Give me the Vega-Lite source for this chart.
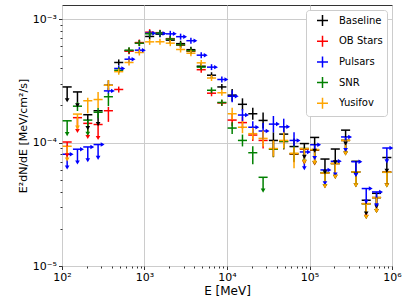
{
"$schema": "https://vega.github.io/schema/vega-lite/v6.json",
"width": 330, "height": 261,
"autosize": "none",
"padding": {"left": 62, "top": 5, "right": 15, "bottom": 39},
"datasets": {
"bins": [
{"b":0,"e":115.48,"elo":101.74,"ehi":131.07},{"b":1,"e":153.99,"elo":135.66,"ehi":174.79},{"b":2,"e":205.35,"elo":180.93,"ehi":233.08},{"b":3,"e":273.84,"elo":241.27,"ehi":310.82},
{"b":4,"e":365.17,"elo":321.74,"ehi":414.49},{"b":5,"e":486.97,"elo":429.05,"ehi":552.74},{"b":6,"e":649.38,"elo":572.16,"ehi":737.11},{"b":7,"e":865.96,"elo":763.01,"ehi":982.96},
{"b":8,"e":1154.8,"elo":1017.4,"ehi":1310.7},{"b":9,"e":1539.9,"elo":1356.6,"ehi":1747.9},{"b":10,"e":2053.5,"elo":1809.3,"ehi":2330.8},{"b":11,"e":2738.4,"elo":2412.7,"ehi":3108.2},
{"b":12,"e":3651.7,"elo":3217.4,"ehi":4144.9},{"b":13,"e":4869.7,"elo":4290.5,"ehi":5527.4},{"b":14,"e":6493.8,"elo":5721.6,"ehi":7371.1},{"b":15,"e":8659.6,"elo":7630.1,"ehi":9829.6},
{"b":16,"e":11548,"elo":10174,"ehi":13107},{"b":17,"e":15399,"elo":13566,"ehi":17479},{"b":18,"e":20535,"elo":18093,"ehi":23308},{"b":19,"e":27384,"elo":24127,"ehi":31082},
{"b":20,"e":36517,"elo":32174,"ehi":41449},{"b":21,"e":48697,"elo":42905,"ehi":55274},{"b":22,"e":64938,"elo":57216,"ehi":73711},{"b":23,"e":86596,"elo":76301,"ehi":98296},
{"b":24,"e":115480,"elo":101740,"ehi":131070},{"b":25,"e":153990,"elo":135660,"ehi":174790},{"b":26,"e":205350,"elo":180930,"ehi":233080},{"b":27,"e":273840,"elo":241270,"ehi":310820},
{"b":28,"e":365170,"elo":321740,"ehi":414490},{"b":29,"e":486970,"elo":429050,"ehi":552740},{"b":30,"e":649380,"elo":572160,"ehi":737110},{"b":31,"e":865960,"elo":763010,"ehi":982960}
],
"pts": [
{"s":"Baseline","b":0,"y":2.82e-4,"lo":2.20e-4,"hi":2.82e-4,"u":1},
{"s":"Baseline","b":1,"y":2.57e-4,"lo":2.00e-4,"hi":2.57e-4,"u":1},
{"s":"Baseline","b":2,"y":1.68e-4,"lo":1.31e-4,"hi":1.68e-4,"u":1},
{"s":"Baseline","b":3,"y":1.81e-4,"lo":1.41e-4,"hi":1.81e-4,"u":1},
{"s":"Baseline","b":4,"y":2.91e-4,"lo":2.65e-4,"hi":3.19e-4,"u":0},
{"s":"Baseline","b":5,"y":4.45e-4,"lo":4.21e-4,"hi":4.71e-4,"u":0},
{"s":"Baseline","b":6,"y":5.53e-4,"lo":5.23e-4,"hi":5.85e-4,"u":0},
{"s":"Baseline","b":7,"y":6.41e-4,"lo":6.06e-4,"hi":6.78e-4,"u":0},
{"s":"Baseline","b":8,"y":7.23e-4,"lo":6.84e-4,"hi":7.65e-4,"u":0},
{"s":"Baseline","b":9,"y":7.55e-4,"lo":7.14e-4,"hi":7.98e-4,"u":0},
{"s":"Baseline","b":10,"y":6.75e-4,"lo":6.38e-4,"hi":7.14e-4,"u":0},
{"s":"Baseline","b":11,"y":6.32e-4,"lo":5.98e-4,"hi":6.68e-4,"u":0},
{"s":"Baseline","b":12,"y":5.65e-4,"lo":5.34e-4,"hi":5.98e-4,"u":0},
{"s":"Baseline","b":13,"y":4.15e-4,"lo":3.92e-4,"hi":4.39e-4,"u":0},
{"s":"Baseline","b":14,"y":3.51e-4,"lo":3.32e-4,"hi":3.71e-4,"u":0},
{"s":"Baseline","b":15,"y":2.82e-4,"lo":2.67e-4,"hi":2.98e-4,"u":0},
{"s":"Baseline","b":16,"y":2.42e-4,"lo":2.16e-4,"hi":2.71e-4,"u":0},
{"s":"Baseline","b":17,"y":2.04e-4,"lo":1.82e-4,"hi":2.28e-4,"u":0},
{"s":"Baseline","b":18,"y":1.71e-4,"lo":1.53e-4,"hi":1.91e-4,"u":0},
{"s":"Baseline","b":19,"y":1.51e-4,"lo":1.30e-4,"hi":1.75e-4,"u":0},
{"s":"Baseline","b":20,"y":1.04e-4,"lo":8.96e-5,"hi":1.21e-4,"u":0},
{"s":"Baseline","b":21,"y":1.17e-4,"lo":1.01e-4,"hi":1.36e-4,"u":0},
{"s":"Baseline","b":22,"y":9.28e-5,"lo":7.99e-5,"hi":1.08e-4,"u":0},
{"s":"Baseline","b":23,"y":9.81e-5,"lo":7.65e-5,"hi":9.81e-5,"u":1},
{"s":"Baseline","b":24,"y":1.10e-4,"lo":8.58e-5,"hi":1.10e-4,"u":1},
{"s":"Baseline","b":25,"y":7.35e-5,"lo":5.73e-5,"hi":7.35e-5,"u":1},
{"s":"Baseline","b":26,"y":8.86e-5,"lo":6.91e-5,"hi":8.86e-5,"u":1},
{"s":"Baseline","b":27,"y":1.26e-4,"lo":9.83e-5,"hi":1.26e-4,"u":1},
{"s":"Baseline","b":28,"y":7.05e-5,"lo":5.50e-5,"hi":7.05e-5,"u":1},
{"s":"Baseline","b":29,"y":3.41e-5,"lo":2.66e-5,"hi":3.41e-5,"u":1},
{"s":"Baseline","b":30,"y":3.88e-5,"lo":3.03e-5,"hi":3.88e-5,"u":1},
{"s":"Baseline","b":31,"y":7.56e-5,"lo":5.90e-5,"hi":7.56e-5,"u":1},
{"s":"OB Stars","b":0,"y":1.01e-4,"lo":7.89e-5,"hi":1.01e-4,"u":1},
{"s":"OB Stars","b":1,"y":1.59e-4,"lo":1.24e-4,"hi":1.59e-4,"u":1},
{"s":"OB Stars","b":2,"y":1.43e-4,"lo":1.11e-4,"hi":1.43e-4,"u":1},
{"s":"OB Stars","b":3,"y":1.40e-4,"lo":1.09e-4,"hi":1.40e-4,"u":1},
{"s":"OB Stars","b":4,"y":1.81e-4,"lo":1.47e-4,"hi":1.94e-4,"u":0},
{"s":"OB Stars","b":5,"y":2.69e-4,"lo":2.54e-4,"hi":2.84e-4,"u":0},
{"s":"OB Stars","b":6,"y":5.50e-4,"lo":5.20e-4,"hi":5.82e-4,"u":0},
{"s":"OB Stars","b":7,"y":6.45e-4,"lo":6.10e-4,"hi":6.82e-4,"u":0},
{"s":"OB Stars","b":8,"y":7.83e-4,"lo":7.41e-4,"hi":8.28e-4,"u":0},
{"s":"OB Stars","b":9,"y":7.76e-4,"lo":7.34e-4,"hi":8.21e-4,"u":0},
{"s":"OB Stars","b":10,"y":6.94e-4,"lo":6.56e-4,"hi":7.34e-4,"u":0},
{"s":"OB Stars","b":11,"y":6.14e-4,"lo":5.81e-4,"hi":6.50e-4,"u":0},
{"s":"OB Stars","b":12,"y":5.49e-4,"lo":5.19e-4,"hi":5.81e-4,"u":0},
{"s":"OB Stars","b":13,"y":3.89e-4,"lo":3.68e-4,"hi":4.11e-4,"u":0},
{"s":"OB Stars","b":14,"y":2.51e-4,"lo":2.37e-4,"hi":2.65e-4,"u":0},
{"s":"OB Stars","b":15,"y":2.09e-4,"lo":1.98e-4,"hi":2.21e-4,"u":0},
{"s":"OB Stars","b":16,"y":1.52e-4,"lo":1.36e-4,"hi":1.70e-4,"u":0},
{"s":"OB Stars","b":17,"y":1.45e-4,"lo":1.30e-4,"hi":1.62e-4,"u":0},
{"s":"OB Stars","b":18,"y":1.15e-4,"lo":1.03e-4,"hi":1.29e-4,"u":0},
{"s":"OB Stars","b":19,"y":1.04e-4,"lo":8.96e-5,"hi":1.21e-4,"u":0},
{"s":"OB Stars","b":20,"y":8.83e-5,"lo":7.61e-5,"hi":1.03e-4,"u":0},
{"s":"OB Stars","b":21,"y":1.02e-4,"lo":8.79e-5,"hi":1.18e-4,"u":0},
{"s":"OB Stars","b":22,"y":8.04e-5,"lo":6.93e-5,"hi":9.33e-5,"u":0},
{"s":"OB Stars","b":23,"y":8.83e-5,"lo":6.89e-5,"hi":8.83e-5,"u":1},
{"s":"OB Stars","b":24,"y":8.66e-5,"lo":6.76e-5,"hi":8.66e-5,"u":1},
{"s":"OB Stars","b":25,"y":5.67e-5,"lo":4.42e-5,"hi":5.67e-5,"u":1},
{"s":"OB Stars","b":26,"y":6.76e-5,"lo":5.27e-5,"hi":6.76e-5,"u":1},
{"s":"OB Stars","b":27,"y":1.04e-4,"lo":8.14e-5,"hi":1.04e-4,"u":1},
{"s":"OB Stars","b":28,"y":5.78e-5,"lo":4.51e-5,"hi":5.78e-5,"u":1},
{"s":"OB Stars","b":29,"y":3.20e-5,"lo":2.50e-5,"hi":3.20e-5,"u":1},
{"s":"OB Stars","b":30,"y":3.58e-5,"lo":2.79e-5,"hi":3.58e-5,"u":1},
{"s":"OB Stars","b":31,"y":5.78e-5,"lo":4.51e-5,"hi":5.78e-5,"u":1},
{"s":"Pulsars","b":0,"y":8.04e-5,"lo":6.27e-5,"hi":8.04e-5,"u":1},
{"s":"Pulsars","b":1,"y":8.83e-5,"lo":6.89e-5,"hi":8.83e-5,"u":1},
{"s":"Pulsars","b":2,"y":9.21e-5,"lo":7.19e-5,"hi":9.21e-5,"u":1},
{"s":"Pulsars","b":3,"y":9.63e-5,"lo":7.51e-5,"hi":9.63e-5,"u":1},
{"s":"Pulsars","b":4,"y":2.62e-4,"lo":2.48e-4,"hi":2.77e-4,"u":0},
{"s":"Pulsars","b":5,"y":3.98e-4,"lo":3.76e-4,"hi":4.21e-4,"u":0},
{"s":"Pulsars","b":6,"y":4.73e-4,"lo":4.47e-4,"hi":5.00e-4,"u":0},
{"s":"Pulsars","b":7,"y":5.60e-4,"lo":5.29e-4,"hi":5.92e-4,"u":0},
{"s":"Pulsars","b":8,"y":7.69e-4,"lo":7.27e-4,"hi":8.13e-4,"u":0},
{"s":"Pulsars","b":9,"y":7.64e-4,"lo":7.23e-4,"hi":8.08e-4,"u":0},
{"s":"Pulsars","b":10,"y":7.59e-4,"lo":7.18e-4,"hi":8.03e-4,"u":0},
{"s":"Pulsars","b":11,"y":7.20e-4,"lo":6.81e-4,"hi":7.62e-4,"u":0},
{"s":"Pulsars","b":12,"y":6.68e-4,"lo":6.32e-4,"hi":7.07e-4,"u":0},
{"s":"Pulsars","b":13,"y":5.10e-4,"lo":4.82e-4,"hi":5.39e-4,"u":0},
{"s":"Pulsars","b":14,"y":4.08e-4,"lo":3.86e-4,"hi":4.31e-4,"u":0},
{"s":"Pulsars","b":15,"y":3.24e-4,"lo":3.06e-4,"hi":3.43e-4,"u":0},
{"s":"Pulsars","b":16,"y":2.37e-4,"lo":2.12e-4,"hi":2.65e-4,"u":0},
{"s":"Pulsars","b":17,"y":1.67e-4,"lo":1.49e-4,"hi":1.87e-4,"u":0},
{"s":"Pulsars","b":18,"y":1.33e-4,"lo":1.19e-4,"hi":1.49e-4,"u":0},
{"s":"Pulsars","b":19,"y":1.24e-4,"lo":1.07e-4,"hi":1.44e-4,"u":0},
{"s":"Pulsars","b":20,"y":1.41e-4,"lo":1.21e-4,"hi":1.64e-4,"u":0},
{"s":"Pulsars","b":21,"y":1.34e-4,"lo":1.15e-4,"hi":1.56e-4,"u":0},
{"s":"Pulsars","b":22,"y":1.04e-4,"lo":8.96e-5,"hi":1.21e-4,"u":0},
{"s":"Pulsars","b":23,"y":8.39e-5,"lo":6.20e-5,"hi":8.39e-5,"u":1},
{"s":"Pulsars","b":24,"y":9.60e-5,"lo":7.49e-5,"hi":9.60e-5,"u":1},
{"s":"Pulsars","b":25,"y":6.00e-5,"lo":4.68e-5,"hi":6.00e-5,"u":1},
{"s":"Pulsars","b":26,"y":7.05e-5,"lo":5.50e-5,"hi":7.05e-5,"u":1},
{"s":"Pulsars","b":27,"y":1.11e-4,"lo":8.69e-5,"hi":1.11e-4,"u":1},
{"s":"Pulsars","b":28,"y":6.99e-5,"lo":5.45e-5,"hi":6.99e-5,"u":1},
{"s":"Pulsars","b":29,"y":4.24e-5,"lo":3.31e-5,"hi":4.24e-5,"u":1},
{"s":"Pulsars","b":30,"y":3.98e-5,"lo":3.10e-5,"hi":3.98e-5,"u":1},
{"s":"Pulsars","b":31,"y":9.03e-5,"lo":7.04e-5,"hi":9.03e-5,"u":1},
{"s":"SNR","b":0,"y":1.50e-4,"lo":1.17e-4,"hi":1.50e-4,"u":1},
{"s":"SNR","b":1,"y":1.97e-4,"lo":1.80e-4,"hi":2.13e-4,"u":0},
{"s":"SNR","b":2,"y":1.52e-4,"lo":1.18e-4,"hi":1.52e-4,"u":1},
{"s":"SNR","b":3,"y":1.76e-4,"lo":1.57e-4,"hi":1.90e-4,"u":0},
{"s":"SNR","b":4,"y":2.35e-4,"lo":1.97e-4,"hi":2.51e-4,"u":0},
{"s":"SNR","b":5,"y":3.85e-4,"lo":3.64e-4,"hi":4.08e-4,"u":0},
{"s":"SNR","b":6,"y":5.60e-4,"lo":5.29e-4,"hi":5.92e-4,"u":0},
{"s":"SNR","b":7,"y":6.38e-4,"lo":6.03e-4,"hi":6.75e-4,"u":0},
{"s":"SNR","b":8,"y":7.60e-4,"lo":7.19e-4,"hi":8.04e-4,"u":0},
{"s":"SNR","b":9,"y":7.70e-4,"lo":7.28e-4,"hi":8.14e-4,"u":0},
{"s":"SNR","b":10,"y":6.90e-4,"lo":6.52e-4,"hi":7.30e-4,"u":0},
{"s":"SNR","b":11,"y":6.18e-4,"lo":5.84e-4,"hi":6.54e-4,"u":0},
{"s":"SNR","b":12,"y":5.53e-4,"lo":5.23e-4,"hi":5.85e-4,"u":0},
{"s":"SNR","b":13,"y":4.08e-4,"lo":3.86e-4,"hi":4.31e-4,"u":0},
{"s":"SNR","b":14,"y":2.65e-4,"lo":2.51e-4,"hi":2.80e-4,"u":0},
{"s":"SNR","b":15,"y":2.11e-4,"lo":1.99e-4,"hi":2.23e-4,"u":0},
{"s":"SNR","b":16,"y":1.31e-4,"lo":1.17e-4,"hi":1.46e-4,"u":0},
{"s":"SNR","b":17,"y":1.04e-4,"lo":9.30e-5,"hi":1.16e-4,"u":0},
{"s":"SNR","b":18,"y":8.27e-5,"lo":6.67e-5,"hi":9.33e-5,"u":0},
{"s":"SNR","b":19,"y":5.23e-5,"lo":4.08e-5,"hi":5.23e-5,"u":1},
{"s":"SNR","b":20,"y":8.83e-5,"lo":7.61e-5,"hi":1.03e-4,"u":0},
{"s":"SNR","b":21,"y":1.02e-4,"lo":8.82e-5,"hi":1.19e-4,"u":0},
{"s":"SNR","b":22,"y":8.11e-5,"lo":6.99e-5,"hi":9.42e-5,"u":0},
{"s":"SNR","b":23,"y":8.94e-5,"lo":6.97e-5,"hi":8.94e-5,"u":1},
{"s":"SNR","b":24,"y":8.74e-5,"lo":6.82e-5,"hi":8.74e-5,"u":1},
{"s":"SNR","b":25,"y":5.70e-5,"lo":4.45e-5,"hi":5.70e-5,"u":1},
{"s":"SNR","b":26,"y":6.76e-5,"lo":5.27e-5,"hi":6.76e-5,"u":1},
{"s":"SNR","b":27,"y":1.04e-4,"lo":8.14e-5,"hi":1.04e-4,"u":1},
{"s":"SNR","b":28,"y":5.78e-5,"lo":4.51e-5,"hi":5.78e-5,"u":1},
{"s":"SNR","b":29,"y":3.19e-5,"lo":2.49e-5,"hi":3.19e-5,"u":1},
{"s":"SNR","b":30,"y":3.58e-5,"lo":2.79e-5,"hi":3.58e-5,"u":1},
{"s":"SNR","b":31,"y":5.74e-5,"lo":4.48e-5,"hi":5.74e-5,"u":1},
{"s":"Yusifov","b":0,"y":9.33e-5,"lo":7.28e-5,"hi":9.33e-5,"u":1},
{"s":"Yusifov","b":1,"y":1.70e-4,"lo":1.32e-4,"hi":1.70e-4,"u":1},
{"s":"Yusifov","b":2,"y":2.18e-4,"lo":1.73e-4,"hi":2.31e-4,"u":0},
{"s":"Yusifov","b":3,"y":2.23e-4,"lo":1.90e-4,"hi":2.57e-4,"u":0},
{"s":"Yusifov","b":4,"y":2.91e-4,"lo":2.65e-4,"hi":3.20e-4,"u":0},
{"s":"Yusifov","b":5,"y":3.75e-4,"lo":3.54e-4,"hi":3.96e-4,"u":0},
{"s":"Yusifov","b":6,"y":4.45e-4,"lo":4.21e-4,"hi":4.71e-4,"u":0},
{"s":"Yusifov","b":7,"y":5.36e-4,"lo":5.07e-4,"hi":5.67e-4,"u":0},
{"s":"Yusifov","b":8,"y":6.54e-4,"lo":6.18e-4,"hi":6.91e-4,"u":0},
{"s":"Yusifov","b":9,"y":6.55e-4,"lo":6.19e-4,"hi":6.93e-4,"u":0},
{"s":"Yusifov","b":10,"y":6.38e-4,"lo":6.03e-4,"hi":6.75e-4,"u":0},
{"s":"Yusifov","b":11,"y":5.67e-4,"lo":5.36e-4,"hi":6.00e-4,"u":0},
{"s":"Yusifov","b":12,"y":5.29e-4,"lo":5.00e-4,"hi":5.60e-4,"u":0},
{"s":"Yusifov","b":13,"y":4.42e-4,"lo":4.18e-4,"hi":4.67e-4,"u":0},
{"s":"Yusifov","b":14,"y":3.33e-4,"lo":3.15e-4,"hi":3.52e-4,"u":0},
{"s":"Yusifov","b":15,"y":2.53e-4,"lo":2.39e-4,"hi":2.68e-4,"u":0},
{"s":"Yusifov","b":16,"y":1.71e-4,"lo":1.53e-4,"hi":1.91e-4,"u":0},
{"s":"Yusifov","b":17,"y":1.33e-4,"lo":1.19e-4,"hi":1.49e-4,"u":0},
{"s":"Yusifov","b":18,"y":1.18e-4,"lo":1.06e-4,"hi":1.32e-4,"u":0},
{"s":"Yusifov","b":19,"y":1.08e-4,"lo":9.28e-5,"hi":1.25e-4,"u":0},
{"s":"Yusifov","b":20,"y":8.94e-5,"lo":7.70e-5,"hi":1.04e-4,"u":0},
{"s":"Yusifov","b":21,"y":1.04e-4,"lo":8.96e-5,"hi":1.21e-4,"u":0},
{"s":"Yusifov","b":22,"y":8.19e-5,"lo":6.19e-5,"hi":9.16e-5,"u":0},
{"s":"Yusifov","b":23,"y":8.94e-5,"lo":6.97e-5,"hi":8.94e-5,"u":1},
{"s":"Yusifov","b":24,"y":8.78e-5,"lo":6.85e-5,"hi":8.78e-5,"u":1},
{"s":"Yusifov","b":25,"y":5.67e-5,"lo":4.42e-5,"hi":5.67e-5,"u":1},
{"s":"Yusifov","b":26,"y":6.76e-5,"lo":5.27e-5,"hi":6.76e-5,"u":1},
{"s":"Yusifov","b":27,"y":1.04e-4,"lo":8.14e-5,"hi":1.04e-4,"u":1},
{"s":"Yusifov","b":28,"y":5.78e-5,"lo":4.51e-5,"hi":5.78e-5,"u":1},
{"s":"Yusifov","b":29,"y":3.19e-5,"lo":2.49e-5,"hi":3.19e-5,"u":1},
{"s":"Yusifov","b":30,"y":3.58e-5,"lo":2.79e-5,"hi":3.58e-5,"u":1},
{"s":"Yusifov","b":31,"y":5.75e-5,"lo":4.49e-5,"hi":5.75e-5,"u":1}
]
},
"data": {"name": "pts"},
"transform": [{"lookup": "b", "from": {"data": {"name": "bins"}, "key": "b", "fields": ["e", "elo", "ehi"]}}],
"encoding": {
  "color": {"field": "s", "type": "nominal",
    "scale": {"domain": ["Baseline", "OB Stars", "Pulsars", "SNR", "Yusifov"], "range": ["#000000", "#ff0000", "#0000ff", "#008000", "#ffa500"]},
    "legend": {"title": null, "orient": "top-right", "offset": 5, "padding": 4, "symbolOffset": 6,
      "strokeColor": "#cccccc", "fillColor": "#ffffff", "cornerRadius": 3,
      "symbolType": "M-1,0L1,0M0,-1L0,1", "symbolSize": 121, "symbolStrokeWidth": 1.5,
      "labelFont": "DejaVu Sans", "labelFontSize": 10, "labelColor": "#000000", "labelOffset": 10, "rowPadding": 3.7}}
},
"layer": [
  {"mark": {"type": "rule", "strokeWidth": 1.5},
   "encoding": {
     "x": {"field": "elo", "type": "quantitative",
       "scale": {"type": "log", "domain": [100, 1000000], "nice": false},
       "axis": {"title": "E [MeV]", "grid": true, "titleFontSize": 12,
         "values": [100,200,300,400,500,600,700,800,900,1000,2000,3000,4000,5000,6000,7000,8000,9000,10000,20000,30000,40000,50000,60000,70000,80000,90000,100000,200000,300000,400000,500000,600000,700000,800000,900000,1000000],
         "labelExpr": "datum.value == 100 ? '10²' : datum.value == 1000 ? '10³' : datum.value == 10000 ? '10⁴' : datum.value == 100000 ? '10⁵' : datum.value == 1000000 ? '10⁶' : ''",
         "tickSize": {"condition": {"test": "datum.value == 100 || datum.value == 1000 || datum.value == 10000 || datum.value == 100000 || datum.value == 1000000", "value": 3.5}, "value": 2},
         "gridOpacity": {"condition": {"test": "datum.value == 100 || datum.value == 1000 || datum.value == 10000 || datum.value == 100000 || datum.value == 1000000", "value": 1}, "value": 0},
         "labelPadding": 2, "titlePadding": 3}},
     "x2": {"field": "ehi"},
     "y": {"field": "y", "type": "quantitative",
       "scale": {"type": "log", "domain": [0.00001, 0.0013], "nice": false},
       "axis": {"title": "E²dN/dE [MeV/cm²/s]", "grid": true,
         "values": [0.00001,0.00002,0.00003,0.00004,0.00005,0.00006,0.00007,0.00008,0.00009,0.0001,0.0002,0.0003,0.0004,0.0005,0.0006,0.0007,0.0008,0.0009,0.001],
         "labelExpr": "datum.value == 0.00001 ? '10⁻⁵' : datum.value == 0.0001 ? '10⁻⁴' : datum.value == 0.001 ? '10⁻³' : ''",
         "tickSize": {"condition": {"test": "datum.value == 0.00001 || datum.value == 0.0001 || datum.value == 0.001", "value": 3.5}, "value": 2},
         "gridOpacity": {"condition": {"test": "datum.value == 0.00001 || datum.value == 0.0001 || datum.value == 0.001", "value": 1}, "value": 0},
         "labelPadding": 2, "titlePadding": 4}}
   }},
  {"mark": {"type": "rule", "strokeWidth": 1.5},
   "encoding": {
     "x": {"field": "e", "type": "quantitative"},
     "y": {"field": "lo", "type": "quantitative"},
     "y2": {"field": "hi"}
   }},
  {"transform": [{"filter": "datum.u == 1"}],
   "mark": {"type": "point", "shape": "triangle-down", "filled": true, "size": 22, "opacity": 1},
   "encoding": {
     "x": {"field": "e", "type": "quantitative"},
     "y": {"field": "lo", "type": "quantitative"}
   }},
  {"transform": [{"filter": "datum.s == 'Pulsars'"}],
   "mark": {"type": "point", "shape": "triangle-right", "filled": true, "size": 20, "opacity": 1},
   "encoding": {
     "x": {"field": "ehi", "type": "quantitative"},
     "y": {"field": "y", "type": "quantitative"}
   }}
],
"config": {
  "view": {"stroke": "#333333", "strokeWidth": 1},
  "font": "DejaVu Sans",
  "axis": {"domain": false, "labelFont": "DejaVu Sans", "labelFontSize": 11, "labelColor": "#000000",
    "titleFont": "DejaVu Sans", "titleFontSize": 11, "titleFontWeight": "normal", "titleColor": "#000000",
    "tickColor": "#333333", "tickWidth": 1, "gridColor": "#cccccc", "gridWidth": 1,
    "labelOverlap": false, "labelBound": false, "labelFlush": false}
}
}
